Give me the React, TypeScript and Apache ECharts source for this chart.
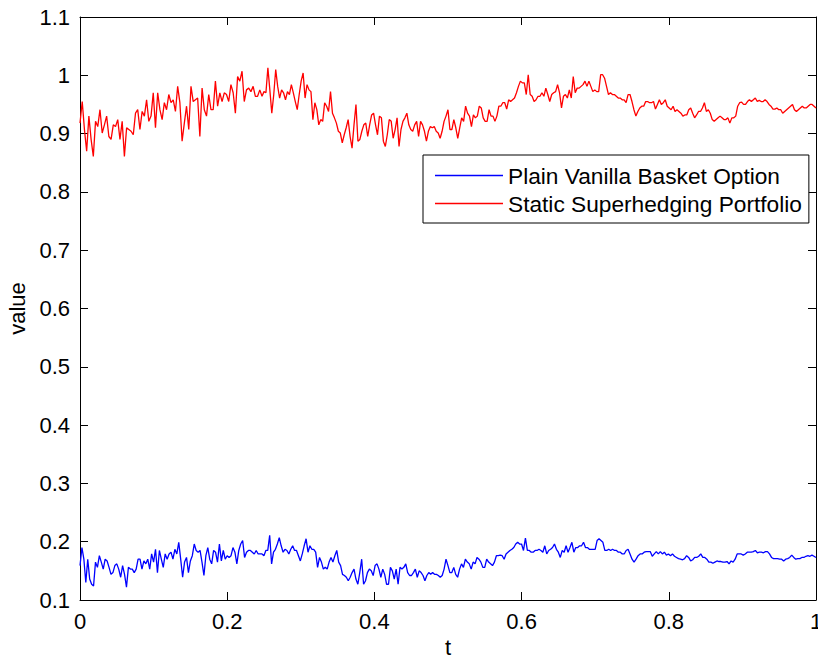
import React, { useEffect, useRef } from "react";
import * as echarts from "echarts";

const seriesNames = ["Plain Vanilla Basket Option", "Static Superhedging Portfolio"];
const xAxisName = "t";
const yAxisName = "value";

// t at which each quarter of the record starts (last entry = end of record)
const partStarts = [0, 0.2473, 0.4973, 0.7473, 1];

// Static Superhedging Portfolio (red), read in four quarters of the t range
const red1 = [
  0.918, 0.955, 0.907, 0.870, 0.930, 0.890, 0.861, 0.921, 0.912, 0.941, 0.901, 0.915, 0.930, 0.895, 0.890, 0.915,
  0.912, 0.924, 0.890, 0.921, 0.861, 0.910, 0.907, 0.904, 0.898, 0.935, 0.941, 0.907, 0.938, 0.930, 0.958, 0.921,
  0.930, 0.970, 0.910, 0.970, 0.941, 0.924, 0.953, 0.941, 0.967, 0.953, 0.958, 0.938, 0.981, 0.953, 0.887, 0.918,
  0.947, 0.907, 0.981, 0.955, 0.958, 0.961, 0.895, 0.978, 0.941, 0.930, 0.967, 0.941, 0.941, 0.990, 0.947, 0.970,
  0.955, 0.970, 0.967, 0.955, 0.984, 0.970, 0.935, 0.998, 0.990, 1.007, 0.955, 0.975, 0.978, 0.972, 0.981, 0.964,
  0.964, 0.975,
];
const red2 = [
  0.964, 0.972, 0.970, 1.013, 0.975, 0.935, 0.967, 1.010, 0.981, 0.961, 0.975, 0.970, 0.958, 0.972, 0.967, 0.984,
  0.970, 0.955, 0.941, 0.967, 0.990, 1.004, 0.961, 0.984, 0.975, 0.972, 0.924, 0.953, 0.941, 0.915, 0.924, 0.921,
  0.953, 0.947, 0.938, 0.972, 0.935, 0.927, 0.918, 0.904, 0.901, 0.884, 0.898, 0.910, 0.924, 0.895, 0.875, 0.915,
  0.950, 0.887, 0.890, 0.904, 0.915, 0.918, 0.895, 0.915, 0.932, 0.935, 0.915, 0.898, 0.930, 0.927, 0.887, 0.878,
  0.898, 0.924, 0.921, 0.892, 0.907, 0.927, 0.878, 0.907, 0.921, 0.927, 0.935, 0.915, 0.907, 0.904, 0.915, 0.921,
  0.895, 0.921, 0.915, 0.904, 0.887, 0.904, 0.912, 0.910, 0.912, 0.904, 0.901, 0.892, 0.904, 0.921,
];
const red3 = [
  0.930, 0.941, 0.907, 0.907, 0.924, 0.910, 0.892, 0.910, 0.927, 0.921, 0.947, 0.935, 0.930, 0.912, 0.932, 0.927,
  0.930, 0.947, 0.944, 0.927, 0.921, 0.921, 0.941, 0.930, 0.930, 0.921, 0.930, 0.947, 0.947, 0.953, 0.953, 0.942,
  0.958, 0.955, 0.958, 0.961, 0.970, 0.981, 0.990, 0.987, 0.987, 0.967, 1.001, 0.967, 0.964, 0.955, 0.958, 0.964,
  0.964, 0.970, 0.964, 0.978, 0.967, 0.955, 0.967, 0.970, 0.972, 0.984, 0.970, 0.944, 0.964, 0.967, 0.961, 0.975,
  0.961, 0.998, 0.970, 0.978, 0.978, 0.981, 0.984, 0.990, 0.981, 0.990, 0.981, 0.972, 0.975, 0.972, 0.972, 1.001,
  1.001, 0.995, 0.981, 0.967, 0.970, 0.967, 0.967, 0.964, 0.961, 0.961, 0.958, 0.958, 0.953, 0.967,
];
const red4 = [
  0.967, 0.955, 0.941, 0.930, 0.938, 0.944, 0.947, 0.947, 0.955, 0.955, 0.953, 0.953, 0.955, 0.942, 0.950, 0.958,
  0.950, 0.953, 0.958, 0.947, 0.944, 0.941, 0.947, 0.938, 0.941, 0.938, 0.935, 0.930, 0.932, 0.932, 0.941, 0.944,
  0.935, 0.927, 0.932, 0.938, 0.938, 0.944, 0.953, 0.938, 0.941, 0.935, 0.924, 0.921, 0.924, 0.927, 0.930, 0.927,
  0.924, 0.924, 0.927, 0.918, 0.927, 0.927, 0.930, 0.947, 0.953, 0.954, 0.950, 0.950, 0.955, 0.958, 0.955, 0.958,
  0.961, 0.955, 0.957, 0.955, 0.955, 0.958, 0.955, 0.950, 0.947, 0.942, 0.942, 0.944, 0.941, 0.941, 0.935, 0.938,
  0.941, 0.944, 0.947, 0.950, 0.941, 0.938, 0.941, 0.944, 0.947, 0.944, 0.944, 0.947, 0.950, 0.950, 0.947, 0.944,
];

// Plain Vanilla Basket Option (blue), read in four quarters of the t range
const blue1 = [
  0.159, 0.190, 0.170, 0.130, 0.170, 0.136, 0.127, 0.124, 0.165, 0.156, 0.176, 0.165, 0.153, 0.170, 0.167, 0.156,
  0.144, 0.147, 0.159, 0.162, 0.153, 0.139, 0.159, 0.144, 0.122, 0.156, 0.153, 0.153, 0.147, 0.153, 0.170, 0.170,
  0.153, 0.167, 0.162, 0.170, 0.153, 0.179, 0.165, 0.187, 0.147, 0.185, 0.170, 0.156, 0.179, 0.170, 0.179, 0.182,
  0.170, 0.187, 0.179, 0.199, 0.170, 0.139, 0.165, 0.173, 0.147, 0.167, 0.176, 0.196, 0.185, 0.182, 0.185, 0.165,
  0.142, 0.176, 0.190, 0.170, 0.162, 0.185, 0.182, 0.165, 0.196, 0.167, 0.185, 0.170, 0.176, 0.173, 0.176, 0.190,
  0.182, 0.162, 0.185, 0.196, 0.202, 0.173, 0.182, 0.185, 0.185, 0.182, 0.179, 0.185, 0.179, 0.179,
];
const blue2 = [
  0.179, 0.176, 0.185, 0.185, 0.211, 0.162, 0.182, 0.187, 0.196, 0.207, 0.193, 0.182, 0.187, 0.185, 0.179, 0.187,
  0.193, 0.185, 0.185, 0.176, 0.167, 0.179, 0.193, 0.205, 0.182, 0.193, 0.187, 0.187, 0.182, 0.156, 0.173, 0.165,
  0.153, 0.156, 0.153, 0.165, 0.173, 0.165, 0.176, 0.185, 0.165, 0.159, 0.144, 0.142, 0.139, 0.133, 0.139, 0.147,
  0.153, 0.136, 0.127, 0.147, 0.170, 0.127, 0.133, 0.147, 0.153, 0.150, 0.142, 0.159, 0.162, 0.153, 0.139, 0.153,
  0.144, 0.127, 0.127, 0.156, 0.150, 0.136, 0.153, 0.127, 0.156, 0.153, 0.156, 0.162, 0.147, 0.142, 0.142, 0.147,
  0.153, 0.139, 0.150, 0.147, 0.142, 0.133, 0.142, 0.147, 0.144, 0.147, 0.144, 0.144, 0.142, 0.139, 0.142, 0.153,
];
const blue3 = [
  0.170, 0.159, 0.147, 0.147, 0.156, 0.144, 0.139, 0.153, 0.162, 0.156, 0.170, 0.165, 0.162, 0.153, 0.165, 0.162,
  0.173, 0.170, 0.165, 0.156, 0.156, 0.170, 0.165, 0.162, 0.159, 0.165, 0.176, 0.176, 0.177, 0.176, 0.170, 0.179,
  0.182, 0.185, 0.187, 0.190, 0.196, 0.199, 0.196, 0.196, 0.185, 0.206, 0.185, 0.185, 0.182, 0.182, 0.185, 0.185,
  0.187, 0.185, 0.182, 0.193, 0.179, 0.185, 0.187, 0.190, 0.196, 0.187, 0.182, 0.173, 0.185, 0.182, 0.193, 0.182,
  0.190, 0.199, 0.182, 0.190, 0.190, 0.193, 0.193, 0.199, 0.190, 0.190, 0.187, 0.187, 0.187, 0.187, 0.202, 0.205,
  0.202, 0.199, 0.185, 0.185, 0.187, 0.185, 0.187, 0.185, 0.185, 0.182, 0.182, 0.179, 0.179, 0.185, 0.187,
];
const blue4 = [
  0.179, 0.170, 0.165, 0.170, 0.176, 0.179, 0.179, 0.182, 0.183, 0.183, 0.183, 0.175, 0.179, 0.183, 0.179, 0.183,
  0.179, 0.182, 0.177, 0.179, 0.176, 0.179, 0.175, 0.173, 0.171, 0.170, 0.169, 0.171, 0.176, 0.173, 0.167, 0.169,
  0.173, 0.173, 0.175, 0.179, 0.173, 0.173, 0.170, 0.165, 0.165, 0.163, 0.165, 0.167, 0.166, 0.166, 0.165, 0.165,
  0.166, 0.162, 0.167, 0.165, 0.170, 0.179, 0.179, 0.179, 0.177, 0.179, 0.182, 0.182, 0.182, 0.183, 0.185, 0.181,
  0.182, 0.182, 0.181, 0.183, 0.183, 0.179, 0.173, 0.171, 0.171, 0.171, 0.170, 0.170, 0.167, 0.170, 0.171, 0.173,
  0.177, 0.173, 0.170, 0.171, 0.171, 0.173, 0.173, 0.175, 0.176, 0.175, 0.177, 0.175, 0.173,
];

const FONT = "'Liberation Sans', Arial, Helvetica, sans-serif";
const W = 818;
const H = 656;

// place the samples of each quarter evenly between that quarter's start and the next one
function toPairs(parts: number[][]): number[][] {
  const out: number[][] = [];
  parts.forEach((arr, p) => {
    const a = partStarts[p];
    const b = partStarts[p + 1];
    const last = p === parts.length - 1;
    const n = last ? arr.length - 1 : arr.length;
    arr.forEach((v, j) => out.push([a + ((b - a) * j) / n, v]));
  });
  return out;
}

export default function App() {
  const ref = useRef<HTMLDivElement>(null);
  useEffect(() => {
    if (!ref.current) return;
    document.body.style.margin = "0";
    const chart = echarts.init(ref.current, null, { renderer: "svg", width: W, height: H });
    const fmt = (v: number) => String(Math.round(v * 10) / 10);
    const axisLine = { show: true, onZero: false, lineStyle: { color: "#000", width: 1 } };
    const axisTick = { show: true, inside: true, length: 8, lineStyle: { color: "#000", width: 1 } };
    const label = { color: "#000", fontSize: 22, fontFamily: FONT };
    chart.setOption({
      animation: false,
      backgroundColor: "#fff",
      grid: { left: 80, right: 2, top: 17, bottom: 56, containLabel: false, outerBoundsMode: "none" },
      xAxis: [
        {
          type: "value", min: 0, max: 1, interval: 0.2, position: "bottom",
          name: xAxisName, nameLocation: "middle", nameGap: 31,
          nameTextStyle: { ...label, lineHeight: 22 },
          axisLine, axisTick, splitLine: { show: false },
          axisLabel: { ...label, margin: 10, formatter: fmt },
        },
        {
          type: "value", min: 0, max: 1, interval: 0.2, position: "top",
          axisLine, axisTick, splitLine: { show: false }, axisLabel: { show: false },
        },
      ],
      yAxis: [
        {
          type: "value", min: 0.1, max: 1.1, interval: 0.1, position: "left",
          name: yAxisName, nameLocation: "middle", nameGap: 52, nameRotate: 90,
          nameTextStyle: { ...label },
          axisLine, axisTick, splitLine: { show: false },
          axisLabel: { ...label, margin: 10, formatter: fmt },
        },
        {
          type: "value", min: 0.1, max: 1.1, interval: 0.1, position: "right",
          axisLine, axisTick, splitLine: { show: false }, axisLabel: { show: false },
        },
      ],
      legend: {
        orient: "vertical", left: 423, top: 155,
        backgroundColor: "#fff", borderColor: "#000", borderWidth: 1, borderRadius: 0,
        padding: [9, 7, 8, 12],
        icon: "rect",
        itemWidth: 68, itemHeight: 1.3, itemGap: 5, itemTextGap: 11,
        textStyle: { fontSize: 22.7, color: "#000", fontFamily: FONT },
        data: seriesNames,
      },
      series: [
        {
          name: seriesNames[0], type: "line", data: toPairs([blue1, blue2, blue3, blue4]),
          showSymbol: false, symbol: "none",
          lineStyle: { color: "#0000ff", width: 1.3 }, itemStyle: { color: "#0000ff" },
        },
        {
          name: seriesNames[1], type: "line", data: toPairs([red1, red2, red3, red4]),
          showSymbol: false, symbol: "none",
          lineStyle: { color: "#ff0000", width: 1.3 }, itemStyle: { color: "#ff0000" },
        },
      ],
    });
    return () => chart.dispose();
  }, []);
  return (
    <div
      ref={ref}
      style={{ position: "absolute", left: 0, top: 0, width: W, height: H }}
    />
  );
}
